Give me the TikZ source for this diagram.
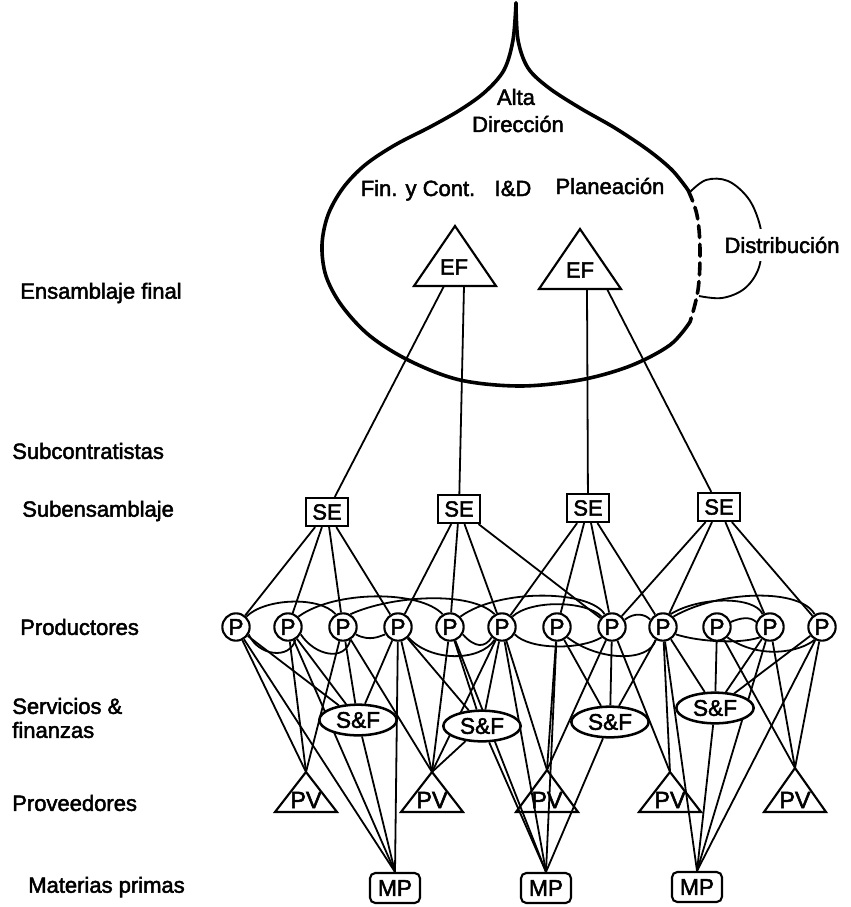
\documentclass[tikz,border=0pt]{standalone}
\usepackage{fontspec}
\setmainfont{Liberation Sans}[FakeBold=2.2]
\usetikzlibrary{shapes.geometric}
\pgfdeclarelayer{bg}
\pgfsetlayers{bg,main}
\begin{document}
\begin{tikzpicture}[x=0.75pt,y=-0.75pt,
  txt/.style={font=\fontsize{16.5}{20}\selectfont, inner sep=0pt},
  lbl/.style={txt, anchor=west},
  pn/.style={circle, draw, line width=1.6pt, fill=white, minimum size=20.5pt, inner sep=0pt, font=\fontsize{17}{18}\selectfont},
  sebox/.style={draw, line width=1.6pt, fill=white, minimum width=32pt, minimum height=21pt, inner sep=0pt, font=\fontsize{16.5}{18}\selectfont},
  mpbox/.style={draw, rounded corners=4pt, line width=1.6pt, fill=white, minimum width=37.5pt, minimum height=22.5pt, inner sep=0pt, font=\fontsize{17}{18}\selectfont},
  sfnode/.style={ellipse, draw, line width=1.9pt, fill=white, minimum width=58pt, minimum height=23pt, inner sep=0pt, font=\fontsize{17}{18}\selectfont},
  conn/.style={line width=1.35pt},
  bulbline/.style={line width=2.7pt, line cap=round, line join=round},
  tri/.style={line width=1.6pt, line join=miter}
]
\useasboundingbox (0,0) rectangle (850,907);

% left labels
\node[lbl] (l1) at (20,293) {Ensamblaje final};
\node[lbl] (l2) at (12,451) {Subcontratistas};
\node[lbl] (l3) at (22,511) {Subensamblaje};
\node[lbl] (l4) at (20,627) {Productores};
\node[lbl] (l5) at (12,706) {Servicios \&};
\node[lbl] (l6) at (12,730) {finanzas};
\node[lbl] (l7) at (12,803) {Proveedores};
\node[lbl] (l8) at (28,887) {Materias primas};

% bulb (Alta Direccion)
\draw[bulbline] plot[smooth, tension=0.55] coordinates {(516,3) (518,40) (528,68) (549,88) (580,108) (615,128) (648,150) (672,170) (688,190)};
\draw[bulbline, dash pattern=on 9pt off 5pt] plot[smooth, tension=0.6] coordinates {(688,190) (697,215) (700,250) (698,290) (690,322)};
\draw[bulbline] plot[smooth, tension=0.55] coordinates {(690,322) (670,345) (630,366) (580,380) (520,386) (460,380) (410,361) (370,336) (342,306) (326,276) (322,245) (328,215) (343,188) (365,165) (395,145) (430,127) (460,110) (485,92) (504,70) (513,40) (516,3)};
% distribution lobe
\draw[line width=1.4pt] plot[smooth, tension=0.6] coordinates {(689,193) (706,180) (728,181) (748,198) (759,222) (762,245) (758,270) (744,289) (722,298) (699,296)};
\node[txt, fill=white, inner xsep=1pt, inner ysep=6pt] (dist) at (782,245) {Distribución};

\node[txt] (alta) at (516,97) {Alta};
\node[txt] (dir) at (518,124) {Dirección};
\node[txt, anchor=base] (fin) at (418,196) {Fin. y Cont.};
\node[txt, anchor=base] (id) at (513,196) {I\&D};
\node[txt, anchor=base] (plan) at (610,194) {Planeación};

% EF triangles
\coordinate (EF1) at (455,226);
\draw[tri] (414,286) -- (EF1) -- (496,286) -- cycle;
\node[txt] (EF1t) at (454,267) {EF};
\coordinate (EF2) at (580,229);
\draw[tri] (539,289) -- (EF2) -- (621,289) -- cycle;
\node[txt] (EF2t) at (580,270) {EF};
\coordinate (EF1L) at (444,286);
\coordinate (EF1R) at (464,286);
\coordinate (EF2L) at (587,289);
\coordinate (EF2R) at (607,289);

% SE
\node[sebox] (SE1) at (327,512) {SE};
\node[sebox] (SE2) at (459,509) {SE};
\node[sebox] (SE3) at (588,508) {SE};
\node[sebox] (SE4) at (719,507) {SE};

% P
\foreach \i/\x in {1/236,2/288,3/343,4/398,5/450,6/502,7/557,8/612,9/663,10/717,11/770,12/822}
  \node[pn] (P\i) at (\x,627) {P};

% S&F
\node[sfnode] (SF1) at (358,720) {S\&F};
\node[sfnode] (SF2) at (482,726) {S\&F};
\node[sfnode] (SF3) at (610,722) {S\&F};
\node[sfnode] (SF4) at (715,708) {S\&F};

% PV
\foreach \i/\x/\ya in {1/306/772,2/432/772,3/547/770,4/670/772,5/795/768} {
  \coordinate (PV\i) at (\x,\ya);
  \draw[tri] (\x-31,812) -- (PV\i) -- (\x+31,812) -- cycle;
  \node[txt, font=\fontsize{17.5}{18}\selectfont] (PVt\i) at (\x,800) {PV};
}

% MP
\node[mpbox] (MP1) at (395,888) {MP};
\node[mpbox] (MP2) at (546,888) {MP};
\node[mpbox] (MP3) at (697,887) {MP};

\begin{pgfonlayer}{bg}
% EF -> SE
\draw[conn] (EF1L) -- (SE1);
\draw[conn] (EF1R) -- (SE2);
\draw[conn] (EF2L) -- (SE3);
\draw[conn] (EF2R) -- (SE4);
% SE -> P
\foreach \p in {1,2,3,4} \draw[conn] (SE1) -- (P\p);
\foreach \p in {4,5,6,8} \draw[conn] (SE2) -- (P\p);
\foreach \p in {6,7,8,9} \draw[conn] (SE3) -- (P\p);
\foreach \p in {8,9,11,12} \draw[conn] (SE4) -- (P\p);
% P -> S&F
\foreach \p in {1,2,3,4} \draw[conn] (P\p) -- (SF1);
\foreach \p in {4,5,6} \draw[conn] (P\p) -- (SF2);
\foreach \p in {7,8,9} \draw[conn] (P\p) -- (SF3);
\foreach \p in {9,10,11,12} \draw[conn] (P\p) -- (SF4);
% P -> PV
\foreach \p in {1,2,3} \draw[conn] (P\p) -- (PV1);
\foreach \p in {3,4,5,6} \draw[conn] (P\p) -- (PV2);
\draw[conn] (SF2) -- (PV2);
\foreach \p in {6,7,8} \draw[conn] (P\p) -- (PV3);
\foreach \p in {8,9} \draw[conn] (P\p) -- (PV4);
\foreach \p in {10,11,12} \draw[conn] (P\p) -- (PV5);
% -> MP
\foreach \p in {1,2,4} \draw[conn] (P\p) -- (MP1.north);
\draw[conn] (SF1) -- (MP1.north);
\foreach \p in {5,6,7} \draw[conn] (P\p) -- (MP2.north);
\draw[conn] (SF2) -- (MP2.north);
\draw[conn] (SF3) -- (MP2.north);
\foreach \p in {9,11,12} \draw[conn] (P\p) -- (MP3.north);
\draw[conn] (SF4) -- (MP3.north);
% curves among producers, above
\draw[conn] (P1.45) .. controls (265,598) and (320,596) .. (P3.120);
\draw[conn] (P2.45) .. controls (335,590) and (420,590) .. (P5.120);
\draw[conn] (P3.60) .. controls (390,596) and (470,590) .. (P6.120);
\draw[conn] (P5.45) .. controls (500,588) and (590,590) .. (P8.120);
\draw[conn] (P6.45) .. controls (530,600) and (585,600) .. (P8.135);
\draw[conn] (P8.30) .. controls (635,612) and (645,614) .. (P9.150);
\draw[conn] (P9.60) .. controls (700,596) and (755,596) .. (P11.120);
\draw[conn] (P9.45) .. controls (720,590) and (800,588) .. (P12.120);
\draw[conn] (P10.20) .. controls (740,618) and (750,616) .. (P11.160);
% below
\draw[conn] (P1.-30) .. controls (258,656) and (290,660) .. (P2.-60);
\draw[conn] (P2.-30) .. controls (315,656) and (345,662) .. (P3.-60);
\draw[conn] (P3.-30) .. controls (370,642) and (380,636) .. (P4.-150);
\draw[conn] (P4.-45) .. controls (430,662) and (480,662) .. (P6.-120);
\draw[conn] (P5.-30) .. controls (475,648) and (485,648) .. (P6.-135);
\draw[conn] (P6.-30) .. controls (530,650) and (580,650) .. (P8.-135);
\draw[conn] (P7.-45) .. controls (600,662) and (650,662) .. (P9.-120);
\draw[conn] (P9.-30) .. controls (700,642) and (740,644) .. (P11.-135);
\draw[conn] (P10.-45) .. controls (760,660) and (800,652) .. (P12.-120);
\end{pgfonlayer}
\end{tikzpicture}
\end{document}
